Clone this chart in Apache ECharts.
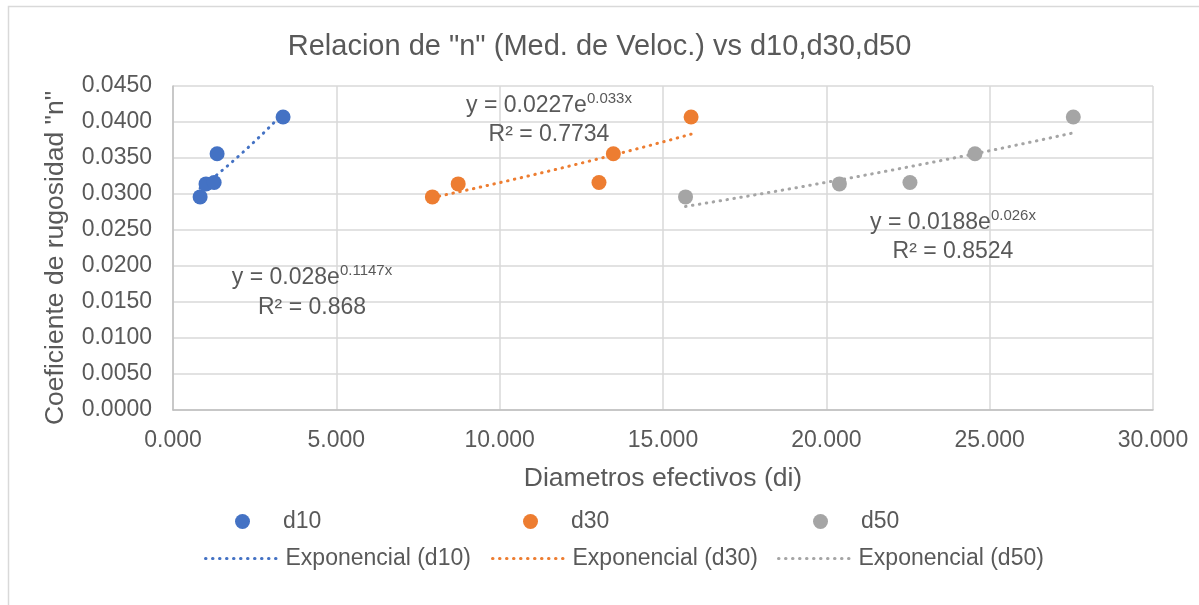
<!DOCTYPE html>
<html>
<head>
<meta charset="utf-8">
<script src="https://cdn.jsdelivr.net/npm/echarts@6/dist/echarts.min.js"></script>
<style>
html,body{margin:0;padding:0;background:#fff;}
#chart{width:1199px;height:605px;}
</style>
</head>
<body>
<div id="chart"></div>
<script>
// ---- data ----
var seriesNames = ['d10', 'd30', 'd50'];
var d10X = [0.83, 1.01, 1.26, 1.35, 3.37];
var d10Y = [0.0296, 0.0314, 0.0316, 0.0356, 0.0407];
var d30X = [7.94, 8.73, 13.04, 13.48, 15.86];
var d30Y = [0.0296, 0.0314, 0.0316, 0.0356, 0.0407];
var d50X = [15.69, 20.40, 22.56, 24.55, 27.56];
var d50Y = [0.0296, 0.0314, 0.0316, 0.0356, 0.0407];
// trendline equations as printed on the chart: y = a * e^(b x)
var trendA = [0.028, 0.0227, 0.0188];
var trendB = [0.1147, 0.033, 0.026];
var eqLabels = ['y = 0.028e', 'y = 0.0227e', 'y = 0.0188e'];
var eqExp = ['0.1147x', '0.033x', '0.026x'];
var r2Labels = ['R² = 0.868', 'R² = 0.7734', 'R² = 0.8524'];

var colors = ['#4472C4', '#ED7D31', '#A5A5A5'];
var xs = [d10X, d30X, d50X];
var ys = [d10Y, d30Y, d50Y];

function pairs(x, y) { return x.map(function (v, i) { return [v, y[i]]; }); }
function trend(k) {
  var x = xs[k], lo = Math.min.apply(null, x), hi = Math.max.apply(null, x), out = [];
  var n = 40;
  for (var i = 0; i <= n; i++) {
    var t = lo + (hi - lo) * i / n;
    out.push([t, trendA[k] * Math.exp(trendB[k] * t)]);
  }
  return out;
}

var FONT = '"Liberation Sans", Arial, sans-serif';
var TXT = '#595959';

var series = [];
for (var k = 0; k < 3; k++) {
  series.push({
    name: seriesNames[k], type: 'scatter', data: pairs(xs[k], ys[k]),
    symbol: 'circle', symbolSize: 15, itemStyle: { color: colors[k], opacity: 1 }, z: 3
  });
}
for (var k2 = 0; k2 < 3; k2++) {
  series.push({
    name: 'Exponencial (' + seriesNames[k2] + ')', type: 'line', data: trend(k2),
    showSymbol: false, symbol: 'none', smooth: false, z: 2,
    lineStyle: { color: colors[k2], width: 3, type: [0.5, 6.5], cap: 'round' },
    itemStyle: { color: colors[k2] }
  });
}

var legendRow1Left = [230, 518, 808];
var legendRow2Left = [199, 486, 772];
var legends = [];
for (var i = 0; i < 3; i++) {
  legends.push({
    data: [{ name: seriesNames[i], icon: 'circle' }], left: legendRow1Left[i], top: 505,
    itemWidth: 15, itemHeight: 15, selectedMode: false,
    textStyle: { fontFamily: FONT, fontSize: 23, color: TXT, padding: [0, 0, 0, 28] }
  });
  legends.push({
    data: ['Exponencial (' + seriesNames[i] + ')'], left: legendRow2Left[i], top: 542,
    itemWidth: 75, itemHeight: 14, selectedMode: false,
    itemStyle: { opacity: 0 },
    lineStyle: { type: [0.5, 6.5], cap: 'round', width: 3 },
    textStyle: { fontFamily: FONT, fontSize: 23, color: TXT }
  });
}

var eqPos = [[312, 278, 308], [549, 106, 135], [953, 223, 252]];
var graphics = [{
  type: 'rect', left: 6, top: 4, silent: true,
  shape: { x: 0, y: 0, width: 1250, height: 700 },
  style: { fill: 'none', stroke: '#d9d9d9', lineWidth: 1.5 }
}];
for (var j = 0; j < 3; j++) {
  graphics.push({
    type: 'text', x: eqPos[j][0], y: eqPos[j][1], z: 10,
    style: {
      text: '{a|' + eqLabels[j] + '}{s|' + eqExp[j] + '}',
      align: 'center', verticalAlign: 'middle',
      rich: {
        a: { fontFamily: FONT, fontSize: 23, fill: TXT, color: TXT },
        s: { fontFamily: FONT, fontSize: 15, fill: TXT, color: TXT, padding: [0, 0, 14, 0] }
      }
    }
  });
  graphics.push({
    type: 'text', x: eqPos[j][0], y: eqPos[j][2], z: 10,
    style: { text: r2Labels[j], align: 'center', verticalAlign: 'middle', font: '23px ' + FONT, fill: TXT }
  });
}

var chart = echarts.init(document.getElementById('chart'), null, { renderer: 'canvas' });
chart.setOption({
  animation: false,
  backgroundColor: '#ffffff',
  title: {
    text: 'Relacion de "n" (Med. de Veloc.) vs d10,d30,d50', left: 'center', top: 27,
    textStyle: { fontFamily: FONT, fontSize: 29, fontWeight: 'normal', color: TXT }
  },
  grid: { left: 173, right: 46, top: 86, bottom: 195, containLabel: false },
  xAxis: {
    type: 'value', min: 0, max: 30, interval: 5,
    name: 'Diametros efectivos (di)', nameLocation: 'middle', nameGap: 55,
    nameTextStyle: { fontFamily: FONT, fontSize: 26.5, color: TXT },
    axisLine: { show: true, lineStyle: { color: '#bfbfbf', width: 1.5 } },
    axisTick: { show: false },
    axisLabel: { fontFamily: FONT, fontSize: 23, color: TXT, margin: 19, formatter: function (v) { return v.toFixed(3); } },
    splitLine: { show: true, lineStyle: { color: '#d9d9d9', width: 1.5 } }
  },
  yAxis: {
    type: 'value', min: 0, max: 0.045, interval: 0.005,
    name: 'Coeficiente de rugosidad "n"', nameLocation: 'middle', nameGap: 104,
    nameTextStyle: { fontFamily: FONT, fontSize: 26.5, color: TXT, padding: [0, 20, 0, 0] },
    axisLine: { show: true, lineStyle: { color: '#bfbfbf', width: 1.5 } },
    axisTick: { show: false },
    axisLabel: { fontFamily: FONT, fontSize: 23, color: TXT, margin: 21, formatter: function (v) { return v.toFixed(4); } },
    splitLine: { show: true, lineStyle: { color: '#d9d9d9', width: 1.5 } }
  },
  legend: legends,
  series: series,
  graphic: graphics
});
</script>
</body>
</html>
